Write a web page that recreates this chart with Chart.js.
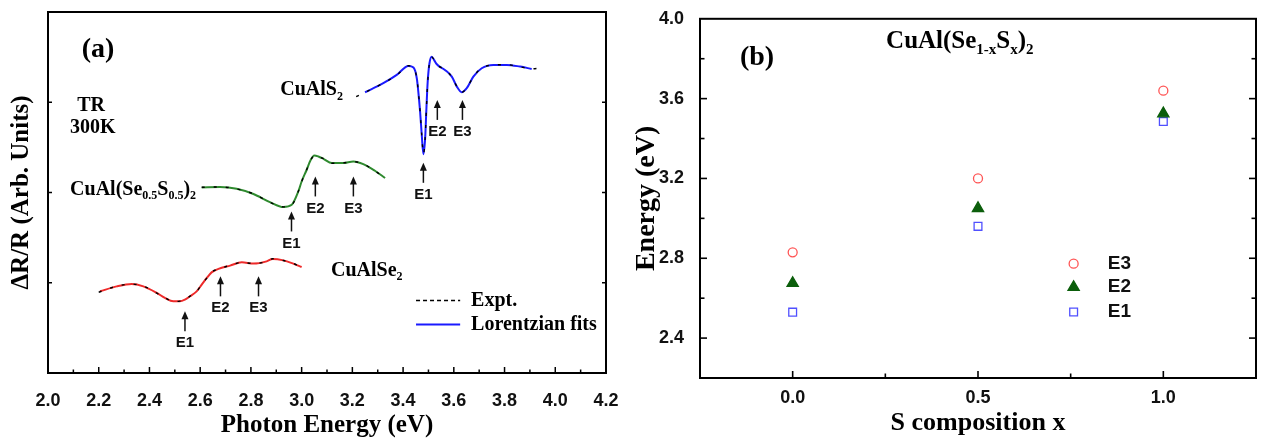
<!DOCTYPE html>
<html><head><meta charset="utf-8">
<script src="https://cdn.jsdelivr.net/npm/chart.js@4.4.1/dist/chart.umd.min.js"></script>
<style>
html,body{margin:0;padding:0;background:#fff;width:1264px;height:441px;overflow:hidden;}
#wa{position:absolute;left:0;top:0;width:640px;height:441px;}
#wb{position:absolute;left:620px;top:0;width:644px;height:441px;}
canvas{display:block;}
</style></head><body>
<div id="wa"><canvas id="ca" width="640" height="441"></canvas></div>
<div id="wb"><canvas id="cb" width="644" height="441"></canvas></div>
<script>
// ---------- Panel (a): TR spectra (arbitrary units) ----------
const seEnergy = [2.205,2.271,2.330,2.376,2.429,2.461,2.494,2.520,2.540,2.560,2.586,2.606,2.626,2.645,2.672,2.718,2.764,2.810,2.862,2.886,2.928,2.967,3.000];
const seFit    = [0.905,0.960,0.987,0.960,0.887,0.832,0.794,0.794,0.813,0.850,0.905,0.979,1.053,1.115,1.153,1.190,1.226,1.212,1.237,1.264,1.248,1.212,1.175];
const seExptEnergy = [2.200,2.271,2.330,2.376,2.429,2.461,2.494,2.520,2.540,2.560,2.586,2.606,2.626,2.645,2.672,2.718,2.764,2.810,2.862,2.886,2.928,2.967,3.000,3.012];
const seExpt       = [0.895,0.962,0.985,0.962,0.885,0.834,0.792,0.796,0.811,0.852,0.903,0.981,1.051,1.117,1.151,1.192,1.224,1.214,1.235,1.266,1.246,1.214,1.173,1.165];

const mixEnergy = [2.606,2.678,2.744,2.810,2.875,2.928,2.961,2.987,3.000,3.020,3.036,3.050,3.066,3.086,3.119,3.164,3.204,3.243,3.289,3.329];
const mixFit    = [2.056,2.060,2.041,1.983,1.894,1.839,1.864,2.012,2.122,2.252,2.362,2.410,2.399,2.373,2.326,2.326,2.344,2.315,2.241,2.160];
const mixExpt   = [2.058,2.062,2.039,1.985,1.892,1.841,1.862,2.014,2.120,2.254,2.360,2.412,2.397,2.375,2.324,2.328,2.342,2.317,2.239,2.162];

const sEnergy = [3.250,3.322,3.375,3.421,3.441,3.454,3.460,3.467,3.474,3.480,3.487,3.492,3.497,3.504,3.513,3.522,3.533,3.565,3.592,3.612,3.631,3.651,3.677,3.710,3.756,3.809,3.861,3.907];
const sFit    = [3.111,3.211,3.303,3.402,3.384,3.266,3.118,2.897,2.620,2.425,2.602,2.934,3.229,3.432,3.505,3.469,3.421,3.358,3.284,3.173,3.111,3.156,3.284,3.377,3.414,3.414,3.395,3.369];
const sExptEnergy = [3.215,3.250,3.322,3.375,3.421,3.441,3.454,3.460,3.467,3.474,3.480,3.487,3.492,3.497,3.504,3.513,3.522,3.533,3.565,3.592,3.612,3.631,3.651,3.677,3.710,3.756,3.809,3.861,3.907,3.940];
const sExpt       = [3.063,3.109,3.213,3.301,3.404,3.382,3.268,3.116,2.899,2.618,2.427,2.600,2.936,3.227,3.434,3.503,3.471,3.419,3.360,3.282,3.175,3.109,3.158,3.282,3.379,3.412,3.416,3.393,3.371,3.377];

// transition arrows (energy, arrow tip height in arb. units)
const transLabels = ['E1','E2','E3'];
const seTransE  = [2.54, 2.68, 2.83];   const seArrowTip  = [0.684, 1.071, 1.071];
const mixTransE = [2.96, 3.054, 3.204]; const mixArrowTip = [1.790, 2.178, 2.178];
const sTransE   = [3.48, 3.535, 3.634]; const sArrowTip   = [2.329, 3.026, 3.026];

// ---------- Panel (b): transition energies vs composition ----------
const composition = [0.0, 0.5, 1.0];
const energyE3 = [2.83, 3.20, 3.64];
const energyE2 = [2.675, 3.05, 3.525];
const energyE1 = [2.53, 2.96, 3.485];

const SERIF = '"Liberation Serif","Times New Roman",serif';
const SANS = '"Liberation Sans",Arial,sans-serif';
Chart.defaults.font.family = SANS;

function pts(xs, ys){ return xs.map((x,i)=>({x:x, y:ys[i]})); }

function richText(ctx, parts, x, y, align, size, subSize){
  const mf = 'bold '+size+'px '+SERIF, sf = 'bold '+subSize+'px '+SERIF;
  let w = 0;
  parts.forEach(p=>{ ctx.font = p[1]?sf:mf; w += ctx.measureText(p[0]).width; });
  let cx = align==='right' ? x-w : (align==='center' ? x-w/2 : x);
  ctx.textAlign='left'; ctx.textBaseline='middle'; ctx.fillStyle='#000';
  parts.forEach(p=>{
    ctx.font = p[1]?sf:mf;
    ctx.fillText(p[0], cx, p[1] ? y+size*0.33 : y);
    cx += ctx.measureText(p[0]).width;
  });
}

function drawArrow(ctx, x, yTip){
  ctx.strokeStyle='#111'; ctx.fillStyle='#111'; ctx.lineWidth=1.5;
  ctx.beginPath(); ctx.moveTo(x, yTip+6); ctx.lineTo(x, yTip+20); ctx.stroke();
  ctx.beginPath(); ctx.moveTo(x, yTip); ctx.lineTo(x-3.5, yTip+8); ctx.lineTo(x+3.5, yTip+8); ctx.closePath(); ctx.fill();
}

const annotA = {
  id:'annotA',
  afterDraw(chart){
    const ctx = chart.ctx, xs = chart.scales.x, ys = chart.scales.y, a = chart.chartArea;
    ctx.save();
    ctx.strokeStyle='#000'; ctx.lineWidth=2;
    ctx.strokeRect(a.left, a.top, a.right-a.left, a.bottom-a.top);
    ctx.lineWidth=1.5;
    xs.ticks.forEach(t=>{
      const p = xs.getPixelForValue(t.value);
      if (p<=a.left+1 || p>=a.right-1) return;
      const major = Math.round(t.value*10)%2===0;
      ctx.beginPath(); ctx.moveTo(p, a.bottom); ctx.lineTo(p, a.bottom-(major?6:3.5)); ctx.stroke();
    });
    ys.ticks.forEach(t=>{
      const p = ys.getPixelForValue(t.value);
      if (p<=a.top+1 || p>=a.bottom-1) return;
      ctx.beginPath(); ctx.moveTo(a.left, p); ctx.lineTo(a.left+4, p); ctx.stroke();
      ctx.beginPath(); ctx.moveTo(a.right, p); ctx.lineTo(a.right-4, p); ctx.stroke();
    });
    const groups = [[seTransE,seArrowTip],[mixTransE,mixArrowTip],[sTransE,sArrowTip]];
    groups.forEach(g=>{
      g[0].forEach((e,i)=>{
        const x = xs.getPixelForValue(e), y = ys.getPixelForValue(g[1][i]);
        drawArrow(ctx, x, y);
        ctx.font='bold 15px '+SANS; ctx.fillStyle='#111'; ctx.textAlign='center'; ctx.textBaseline='middle';
        ctx.fillText(transLabels[i], x, y+32);
      });
    });
    ctx.fillStyle='#000'; ctx.textAlign='center'; ctx.textBaseline='middle';
    ctx.font='bold 28px '+SERIF;
    ctx.fillText('(a)', xs.getPixelForValue(2.197), ys.getPixelForValue(3.58));
    ctx.font='bold 20px '+SERIF;
    ctx.fillText('TR', xs.getPixelForValue(2.170), ys.getPixelForValue(2.96));
    ctx.fillText('300K', xs.getPixelForValue(2.177), ys.getPixelForValue(2.716));
    richText(ctx, [['CuAlS',0],['2',1]], xs.getPixelForValue(3.163), ys.getPixelForValue(3.137), 'right', 20, 12);
    richText(ctx, [['CuAl(Se',0],['0.5',1],['S',0],['0.5',1],[')',0],['2',1]], xs.getPixelForValue(2.087), ys.getPixelForValue(2.030), 'left', 20, 12);
    richText(ctx, [['CuAlSe',0],['2',1]], xs.getPixelForValue(3.116), ys.getPixelForValue(1.134), 'left', 20, 12);
    const lx0 = xs.getPixelForValue(3.451), lx1 = xs.getPixelForValue(3.625), tx = xs.getPixelForValue(3.668);
    const ly1 = ys.getPixelForValue(0.802), ly2 = ys.getPixelForValue(0.537);
    ctx.strokeStyle='#000'; ctx.lineWidth=1.5; ctx.setLineDash([4,3]);
    ctx.beginPath(); ctx.moveTo(lx0, ly1); ctx.lineTo(lx1, ly1); ctx.stroke();
    ctx.setLineDash([]); ctx.strokeStyle='#1a1aff'; ctx.lineWidth=2;
    ctx.beginPath(); ctx.moveTo(lx0, ly2); ctx.lineTo(lx1, ly2); ctx.stroke();
    ctx.fillStyle='#000'; ctx.textAlign='left'; ctx.font='bold 20px '+SERIF;
    ctx.fillText('Expt.', tx, ly1);
    ctx.fillText('Lorentzian fits', tx, ly2);
    ctx.restore();
  }
};

function fitDs(label, xs, ys, color){
  return {label, data:pts(xs,ys), borderColor:color, borderWidth:2, pointRadius:0, fill:false, cubicInterpolationMode:'monotone', order:1};
}
function exptDs(label, xs, ys){
  return {label, data:pts(xs,ys), borderColor:'#000', borderWidth:1.4, borderDash:[3,9], pointRadius:0, fill:false, cubicInterpolationMode:'monotone', order:0};
}

new Chart(document.getElementById('ca'), {
  type:'line',
  data:{datasets:[
    exptDs('CuAlSe2 Expt.', seExptEnergy, seExpt),
    exptDs('CuAl(Se0.5S0.5)2 Expt.', mixEnergy, mixExpt),
    exptDs('CuAlS2 Expt.', sExptEnergy, sExpt),
    fitDs('CuAlSe2 fit', seEnergy, seFit, '#ee2a2a'),
    fitDs('CuAl(Se0.5S0.5)2 fit', mixEnergy, mixFit, '#2e8a2e'),
    fitDs('CuAlS2 fit', sEnergy, sFit, '#1a1aff')
  ]},
  options:{
    responsive:false, animation:false, devicePixelRatio:1,
    layout:{padding:{top:12,right:34,left:0,bottom:0}},
    plugins:{legend:{display:false}, tooltip:{enabled:false}},
    scales:{
      x:{type:'linear', min:2.0, max:4.2,
        grid:{display:false}, border:{display:false},
        ticks:{stepSize:0.1, autoSkip:false, maxRotation:0, padding:9, color:'#111',
          font:{family:SANS, size:18, weight:'bold'},
          callback:v=> (Math.round(v*10)%2===0 ? v.toFixed(1) : '')},
        title:{display:true, text:'Photon Energy (eV)', color:'#000', padding:{top:0,bottom:0},
          font:{family:SERIF, size:25, weight:'bold'}},
        afterFit:s=>{s.height=68;}
      },
      y:{type:'linear', min:0, max:4,
        grid:{display:false}, border:{display:false},
        ticks:{display:false, stepSize:1},
        title:{display:true, text:'ΔR/R (Arb. Units)', color:'#000', padding:{top:7,bottom:0},
          font:{family:SERIF, size:25, weight:'bold'}},
        afterFit:s=>{s.width=48;}
      }
    }
  },
  plugins:[annotA]
});

// ---------- Panel (b) ----------
function marker(ctx, style, x, y, r, stroke, fill){
  ctx.save(); ctx.lineWidth=1.3; ctx.strokeStyle=stroke; ctx.fillStyle=fill;
  ctx.beginPath();
  if (style==='circle'){ ctx.arc(x,y,r,0,Math.PI*2); }
  else if (style==='triangle'){ const s=Math.sin(Math.PI*2/3)*r; ctx.moveTo(x,y-r); ctx.lineTo(x+s,y+r*0.5); ctx.lineTo(x-s,y+r*0.5); ctx.closePath(); }
  else { const h=Math.SQRT1_2*r; ctx.rect(x-h,y-h,2*h,2*h); }
  ctx.fill(); ctx.stroke(); ctx.restore();
}

const annotB = {
  id:'annotB',
  afterDraw(chart){
    const ctx = chart.ctx, xs = chart.scales.x, ys = chart.scales.y, a = chart.chartArea;
    ctx.save();
    ctx.strokeStyle='#000'; ctx.lineWidth=2;
    ctx.strokeRect(a.left, a.top, a.right-a.left, a.bottom-a.top);
    ctx.lineWidth=1.6;
    xs.ticks.forEach(t=>{
      const p = xs.getPixelForValue(t.value);
      if (p<=a.left+1 || p>=a.right-1) return;
      const major = Math.abs(t.value*2-Math.round(t.value*2))<1e-6;
      ctx.beginPath(); ctx.moveTo(p, a.bottom); ctx.lineTo(p, a.bottom-(major?7:4.5)); ctx.stroke();
    });
    ys.ticks.forEach(t=>{
      const p = ys.getPixelForValue(t.value);
      if (p<=a.top+1 || p>=a.bottom-1) return;
      const major = Math.round(t.value*10)%4===0;
      const L = major?7:4.5;
      ctx.beginPath(); ctx.moveTo(a.left, p); ctx.lineTo(a.left+L, p); ctx.stroke();
      ctx.beginPath(); ctx.moveTo(a.right, p); ctx.lineTo(a.right-L, p); ctx.stroke();
    });
    ctx.fillStyle='#000'; ctx.textAlign='center'; ctx.textBaseline='middle';
    ctx.font='bold 28px '+SERIF;
    ctx.fillText('(b)', xs.getPixelForValue(-0.096), ys.getPixelForValue(3.807));
    richText(ctx, [['CuAl(Se',0],['1-x',1],['S',0],['x',1],[')',0],['2',1]], xs.getPixelForValue(0.451), ys.getPixelForValue(3.886), 'center', 25, 15);
    const mx = xs.getPixelForValue(0.758), tx = xs.getPixelForValue(0.85);
    const rows = [['E3','circle','#ff5555','#fff',4.5,2.773],['E2','triangle','#0b5e0b','#0b5e0b',6.5,2.655],['E1','rect','#5050ff','#fff',5.5,2.531]];
    rows.forEach(r=>{
      const y = ys.getPixelForValue(r[5]);
      marker(ctx, r[1], mx, y, r[4], r[2], r[3]);
      ctx.fillStyle='#111'; ctx.textAlign='left'; ctx.textBaseline='middle'; ctx.font='bold 19px '+SANS;
      ctx.fillText(r[0], tx, y);
    });
    ctx.restore();
  }
};

new Chart(document.getElementById('cb'), {
  type:'scatter',
  data:{datasets:[
    {label:'E3', data:pts(composition, energyE3), pointStyle:'circle', pointRadius:4.5, pointBorderWidth:1.3, pointBorderColor:'#ff5555', pointBackgroundColor:'#fff', showLine:false},
    {label:'E2', data:pts(composition, energyE2), pointStyle:'triangle', pointRadius:6.5, pointBorderWidth:1.3, pointBorderColor:'#0b5e0b', pointBackgroundColor:'#0b5e0b', showLine:false},
    {label:'E1', data:pts(composition, energyE1), pointStyle:'rect', pointRadius:5.5, pointBorderWidth:1.3, pointBorderColor:'#5050ff', pointBackgroundColor:'#fff', showLine:false}
  ]},
  options:{
    responsive:false, animation:false, devicePixelRatio:1,
    layout:{padding:{top:14,right:8,left:0,bottom:0}},
    plugins:{legend:{display:false}, tooltip:{enabled:false}},
    scales:{
      x:{type:'linear', min:-0.25, max:1.25,
        grid:{display:false}, border:{display:false},
        ticks:{stepSize:0.25, autoSkip:false, maxRotation:0, padding:1, color:'#111',
          font:{family:SANS, size:18, weight:'bold'},
          callback:v=> (Math.abs(v*2-Math.round(v*2))<1e-6 ? v.toFixed(1) : '')},
        title:{display:true, text:'S composition x', color:'#000', padding:{top:0,bottom:2},
          font:{family:SERIF, size:26, weight:'bold'}},
        afterFit:s=>{s.height=63;}
      },
      y:{type:'linear', min:2.2, max:4.0,
        grid:{display:false}, border:{display:false},
        ticks:{stepSize:0.2, autoSkip:false, padding:8, color:'#111',
          font:{family:SANS, size:18, weight:'bold'},
          callback:v=> (Math.round(v*10)%4===0 ? v.toFixed(1) : '')},
        title:{display:true, text:'Energy (eV)', color:'#000', padding:{top:10,bottom:0},
          font:{family:SERIF, size:28, weight:'bold'}},
        afterFit:s=>{s.width=80;}
      }
    }
  },
  plugins:[annotB]
});
</script>
</body></html>
